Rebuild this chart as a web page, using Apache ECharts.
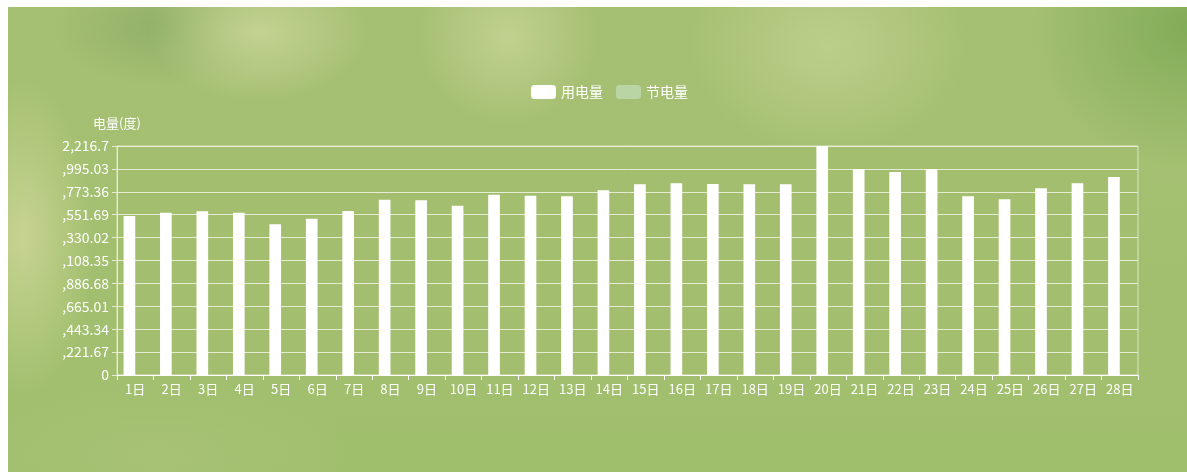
<!DOCTYPE html>
<html>
<head>
<meta charset="utf-8">
<script src="https://cdn.jsdelivr.net/npm/echarts@6/dist/echarts.min.js"></script>
<style>
html,body{margin:0;padding:0;width:1187px;height:472px;overflow:hidden;background:#fff;}
#bg{position:absolute;left:8px;top:7px;width:1179px;height:465px;
background:
radial-gradient(ellipse 70px 160px at 15px 230px, rgba(205,215,150,0.85), rgba(205,215,150,0) 100%),
radial-gradient(ellipse 110px 70px at 250px 25px, rgba(200,212,150,0.9), rgba(200,212,150,0) 100%),
radial-gradient(ellipse 90px 90px at 500px 30px, rgba(196,210,146,0.9), rgba(196,210,146,0) 100%),
radial-gradient(ellipse 140px 110px at 820px 40px, rgba(190,208,140,0.9), rgba(190,208,140,0) 100%),
radial-gradient(ellipse 120px 60px at 160px 20px, rgba(130,165,95,0.6), rgba(130,165,95,0) 100%),
radial-gradient(ellipse 160px 140px at 1180px 20px, rgba(125,170,85,0.9), rgba(125,170,85,0) 100%),
radial-gradient(ellipse 200px 80px at 150px 450px, rgba(170,195,120,0.7), rgba(170,195,120,0) 100%),
linear-gradient(180deg, #a6c073 0%, #a2bf6f 60%, #a0bf6d 100%);}
#chart{position:absolute;left:62px;top:0;width:1125px;height:472px;}
</style>
</head>
<body>
<div id="bg"></div>
<div id="chart"></div>
<script>
var categories = ['1日','2日','3日','4日','5日','6日','7日','8日','9日','10日','11日','12日','13日','14日','15日','16日','17日','18日','19日','20日','21日','22日','23日','24日','25日','26日','27日','28日'];
var usedPower = [15430,15750,15880,15750,14620,15170,15910,17010,16950,16430,17490,17400,17330,17920,18500,18600,18530,18500,18500,22216.7,19970,19700,19980,17330,17050,18110,18600,19210];
var savedPower = [0,0,0,0,0,0,0,0,0,0,0,0,0,0,0,0,0,0,0,0,0,0,0,0,0,0,0,0];
var seriesNames = ['用电量','节电量'];
var yName = '电量(度)';
var yMax = 22216.7;
var yInterval = 2221.67;

var chart = echarts.init(document.getElementById('chart'));
var ff = '"Noto Sans CJK SC", "Noto Sans", sans-serif';
chart.setOption({
  animation:false,
  backgroundColor:'transparent',
  legend:{
    left:464, top:80, itemWidth:25, itemHeight:14, itemGap:13,
    icon:'roundRect',
    textStyle:{color:'#ffffff', fontSize:14, fontFamily:ff},
    data:seriesNames
  },
  grid:{
    left:55, right:49, top:146, bottom:97,
    outerBoundsMode:'none', containLabel:false,
    show:true, backgroundColor:'#a3be6e', borderColor:'rgba(235,240,220,0.8)', borderWidth:1
  },
  xAxis:{
    type:'category', data:categories,
    axisLine:{lineStyle:{color:'#ffffff'}},
    axisTick:{show:true, length:5, lineStyle:{color:'#ffffff'}},
    axisLabel:{margin:8, interval:0, color:'#ffffff', fontSize:13, fontFamily:ff}
  },
  yAxis:{
    type:'value', min:0, max:yMax, interval:yInterval,
    name:yName, nameGap:16, nameTextStyle:{color:'#ffffff', fontSize:13, fontFamily:ff},
    axisLine:{show:true, lineStyle:{color:'rgba(235,240,220,0.9)'}},
    axisTick:{show:true, length:5, lineStyle:{color:'rgba(235,240,220,0.9)'}},
    axisLabel:{margin:8, color:'#ffffff', fontSize:14, fontFamily:ff},
    splitLine:{lineStyle:{color:'rgba(240,244,228,0.85)'}}
  },
  series:[
    {name:seriesNames[0], type:'bar', data:usedPower, barGap:'0%', barCategoryGap:'36%', itemStyle:{color:'#ffffff'}},
    {name:seriesNames[1], type:'bar', data:savedPower, itemStyle:{color:'#b9d5a4'}}
  ]
});
</script>
</body>
</html>
